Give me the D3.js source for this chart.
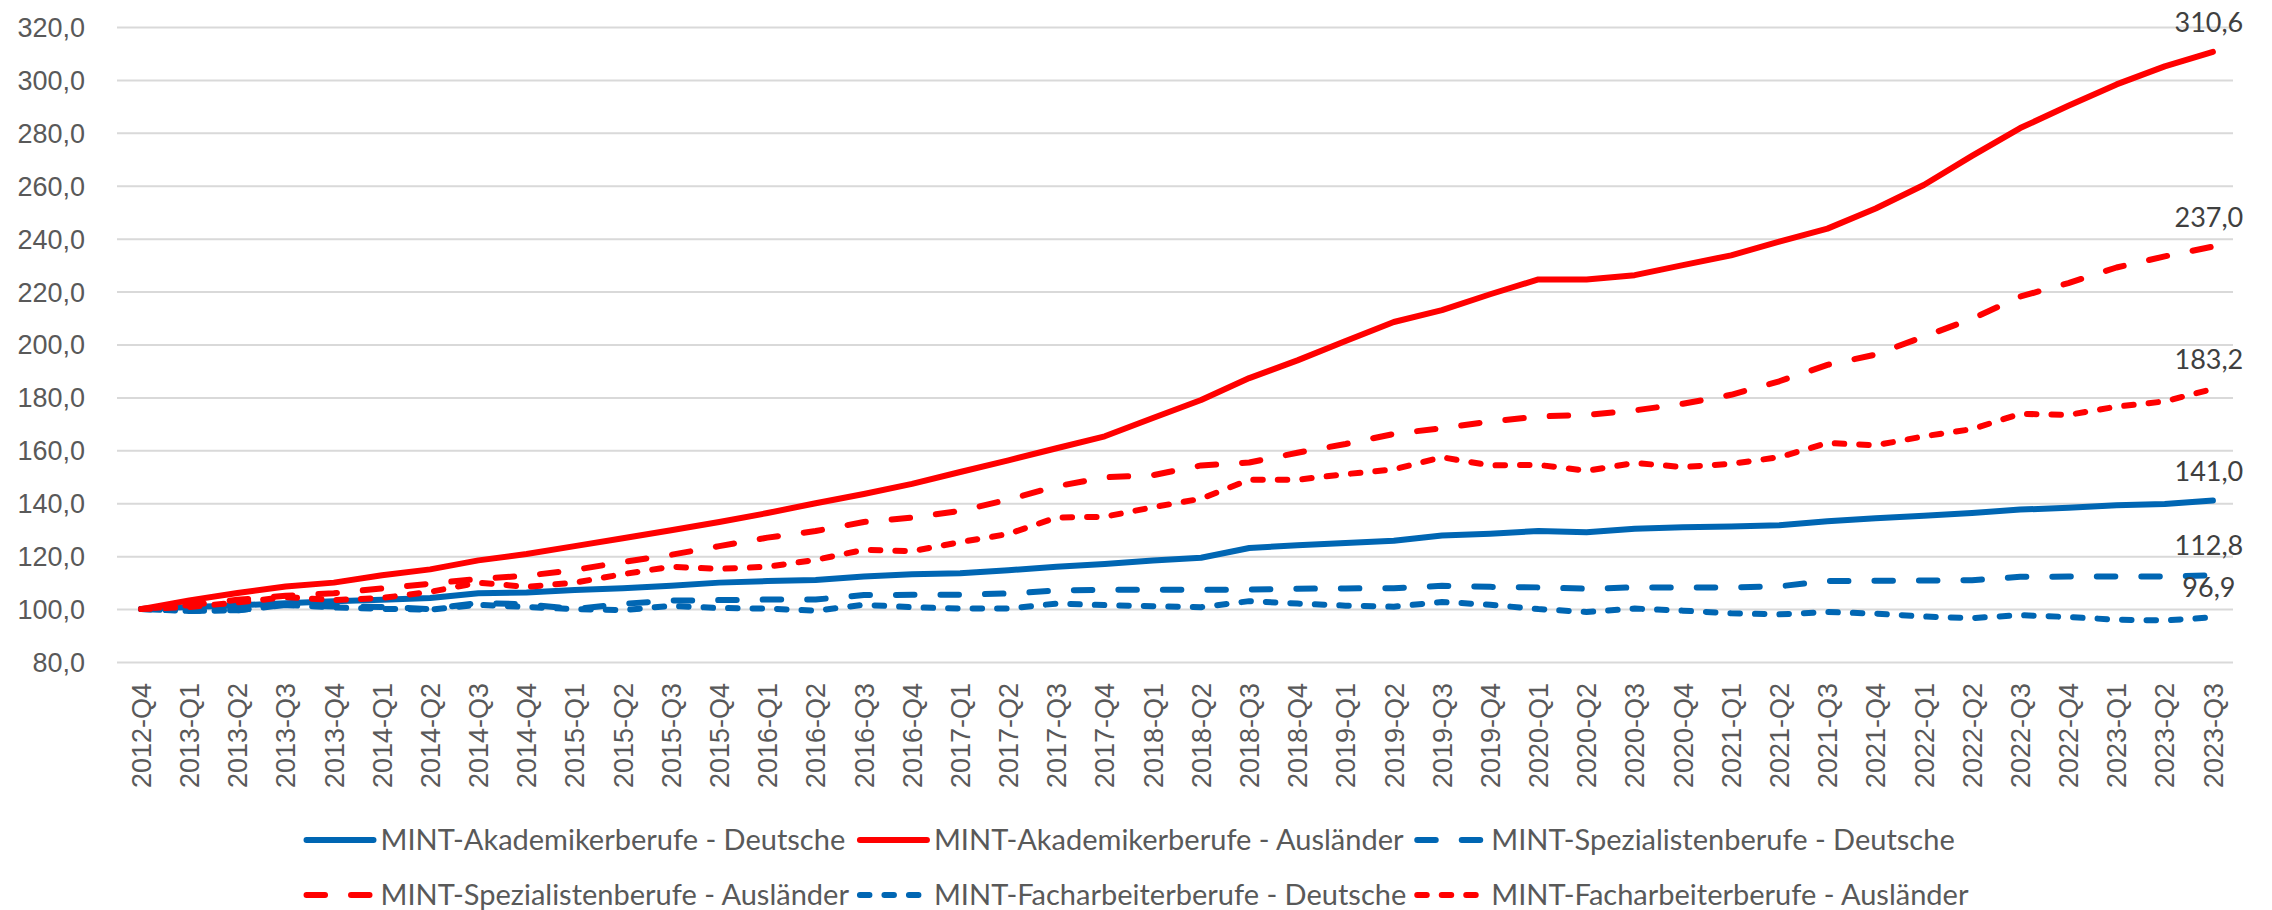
<!DOCTYPE html>
<html lang="de">
<head>
<meta charset="UTF-8">
<title>MINT-Beschäftigung nach Staatsangehörigkeit</title>
<script src="https://d3js.org/d3.v7.min.js"></script>
<style>
  body { margin: 0; background: #fff; }
  svg { display: block; font-family: Lato, "Open Sans", sans-serif; }
  .axis text { fill: #595959; font-size: 27px; }
  .grid line { stroke: #d9d9d9; stroke-width: 2; }
  .series { fill: none; stroke-width: 6; stroke-linecap: round; stroke-linejoin: round; }
  .end-label { fill: #404040; font-size: 27px; }
  .legend text { fill: #595959; font-size: 29px; }
</style>
</head>
<body>
<svg width="2272" height="910"></svg>
<script>
// categories (x axis)
const quarters = [
  "2012-Q4",
  "2013-Q1", "2013-Q2", "2013-Q3", "2013-Q4",
  "2014-Q1", "2014-Q2", "2014-Q3", "2014-Q4",
  "2015-Q1", "2015-Q2", "2015-Q3", "2015-Q4",
  "2016-Q1", "2016-Q2", "2016-Q3", "2016-Q4",
  "2017-Q1", "2017-Q2", "2017-Q3", "2017-Q4",
  "2018-Q1", "2018-Q2", "2018-Q3", "2018-Q4",
  "2019-Q1", "2019-Q2", "2019-Q3", "2019-Q4",
  "2020-Q1", "2020-Q2", "2020-Q3", "2020-Q4",
  "2021-Q1", "2021-Q2", "2021-Q3", "2021-Q4",
  "2022-Q1", "2022-Q2", "2022-Q3", "2022-Q4",
  "2023-Q1", "2023-Q2", "2023-Q3"
];

// index values, 2012-Q4 = 100
const akademikerDeutsche = [100, 100.8, 101.4, 102.2, 103.0, 103.5, 104.2, 106.0, 106.3, 107.2, 107.9, 108.8, 110.0, 110.6,
  111.0, 112.3, 113.2, 113.5, 114.7, 116.0, 117.0, 118.4, 119.4, 123.1, 124.1, 125.0, 125.8, 127.8, 128.5,
  129.5, 129.0, 130.4, 130.9, 131.2, 131.7, 133.2, 134.3, 135.3, 136.3, 137.6, 138.3, 139.2, 139.7, 141.0];
const akademikerAuslaender = [100, 103.3, 106.1, 108.5, 110.0, 112.8, 115.0, 118.4, 120.8, 123.8, 126.8, 129.8, 132.9, 136.3,
  140.0, 143.5, 147.3, 151.8, 156.2, 160.8, 165.3, 172.2, 179.0, 187.3, 194.0, 201.3, 208.5, 213.0, 219.0,
  224.6, 224.6, 226.2, 230.0, 233.7, 238.9, 243.8, 251.4, 260.3, 271.3, 281.8, 290.2, 298.3, 305.1, 310.6];
const spezialistenDeutsche = [100, 99.3, 99.6, 101.5, 101.0, 100.8, 100.0, 102.3, 101.8, 100.0, 102.0, 103.2, 103.4, 103.6,
  103.6, 105.3, 105.4, 105.4, 105.9, 107.0, 107.3, 107.3, 107.3, 107.4, 107.7, 107.8, 107.9, 108.8, 108.4,
  108.2, 107.7, 108.2, 108.2, 108.2, 108.6, 110.6, 110.7, 110.8, 110.9, 112.2, 112.3, 112.3, 112.3, 112.8];
const spezialistenAuslaender = [100, 101.5, 103.5, 105.0, 106.0, 107.8, 109.6, 111.4, 112.6, 114.8, 117.8, 120.5, 123.8, 127.0,
  129.5, 132.9, 134.6, 137.1, 141.4, 146.4, 149.8, 150.6, 154.3, 155.4, 159.1, 162.4, 166.2, 168.4, 170.9,
  172.8, 173.4, 175.1, 177.6, 181.0, 186.1, 192.3, 196.2, 203.0, 209.7, 218.1, 223.2, 229.1, 233.3, 237.0];
const facharbeiterDeutsche = [100, 99.3, 99.5, 101.6, 100.6, 100.1, 99.8, 101.6, 100.8, 100.0, 99.6, 101.2, 100.4, 100.2,
  99.4, 101.6, 100.7, 100.2, 100.2, 102.1, 101.5, 101.1, 100.7, 103.0, 102.1, 101.3, 100.9, 102.7, 101.6,
  100.0, 98.9, 100.2, 99.4, 98.4, 98.0, 98.9, 98.3, 97.2, 96.6, 97.7, 97.0, 96.0, 95.7, 96.9];
const facharbeiterAuslaender = [100, 100.8, 102.5, 104.5, 103.4, 104.2, 106.5, 110.0, 108.4, 110.0, 113.2, 116.0, 115.2, 116.0,
  118.6, 122.4, 121.9, 125.3, 128.4, 134.6, 134.9, 138.5, 141.7, 148.9, 148.9, 151.0, 152.8, 157.4, 154.3,
  154.5, 152.3, 155.2, 153.7, 154.9, 157.4, 162.8, 161.9, 165.3, 168.0, 173.8, 173.4, 176.5, 178.5, 183.2];

const seriesNames = [
  "MINT-Akademikerberufe - Deutsche",
  "MINT-Akademikerberufe - Ausländer",
  "MINT-Spezialistenberufe - Deutsche",
  "MINT-Spezialistenberufe - Ausländer",
  "MINT-Facharbeiterberufe - Deutsche",
  "MINT-Facharbeiterberufe - Ausländer"
];

// y axis tick labels
const yTicks = [80, 100, 120, 140, 160, 180, 200, 220, 240, 260, 280, 300, 320];

const blue = "#0066b3", red = "#ff0000";
const longDash = "18.5,26", shortDash = "9.5,15";

const series = [
  { name: seriesNames[0], values: akademikerDeutsche, color: blue, dash: null },
  { name: seriesNames[1], values: akademikerAuslaender, color: red, dash: null },
  { name: seriesNames[2], values: spezialistenDeutsche, color: blue, dash: longDash },
  { name: seriesNames[3], values: spezialistenAuslaender, color: red, dash: longDash },
  { name: seriesNames[4], values: facharbeiterDeutsche, color: blue, dash: shortDash },
  { name: seriesNames[5], values: facharbeiterAuslaender, color: red, dash: shortDash }
];

const de = d3.formatLocale({ decimal: ",", thousands: ".", grouping: [3], currency: ["", " €"] });
const fmt = de.format(".1f");

const svg = d3.select("svg");
const plot = { left: 117, right: 2237, top: 27, bottom: 662 };

const x = d3.scaleBand().domain(quarters).range([plot.left, plot.right]);
const y = d3.scaleLinear().domain([80, 320]).range([plot.bottom, plot.top]);
const cx = q => x(q) + x.bandwidth() / 2;

// gridlines + y labels
const yAxis = svg.append("g")
  .attr("class", "axis grid")
  .attr("transform", `translate(${plot.left},0)`)
  .call(d3.axisLeft(y).tickValues(yTicks).tickFormat(fmt)
    .tickSize(-(plot.right - 4 - plot.left)).tickPadding(32));
yAxis.select(".domain").remove();
yAxis.selectAll("text").attr("dy", "0.35em");

// x labels, rotated
const xAxis = svg.append("g")
  .attr("class", "axis")
  .attr("transform", `translate(0,${plot.bottom})`)
  .call(d3.axisBottom(x).tickSize(0));
xAxis.select(".domain").remove();
xAxis.selectAll("text")
  .attr("transform", "rotate(-90)")
  .attr("x", -21)
  .attr("y", 0)
  .attr("dy", "0.36em")
  .style("text-anchor", "end");

// lines
const line = d3.line()
  .x((d, i) => cx(quarters[i]))
  .y(d => y(d));

svg.append("g").selectAll("path")
  .data(series)
  .join("path")
  .attr("class", "series")
  .attr("stroke", d => d.color)
  .attr("stroke-dasharray", d => d.dash)
  .attr("d", d => line(d.values));

// value labels at the last quarter
const lastQ = quarters[quarters.length - 1];
svg.append("g").selectAll("text")
  .data(series)
  .join("text")
  .attr("class", "end-label")
  .attr("x", cx(lastQ) - 4)
  .attr("y", d => y(d.values[d.values.length - 1]) - 20)
  .attr("text-anchor", "middle")
  .text(d => fmt(d.values[d.values.length - 1]));

// legend: 2 rows x 3 columns, centred
const legend = svg.append("g").attr("class", "legend");
const rowsY = [840, 895];
const symLen = 73, symGap = 4, colGap = 8;

const items = legend.selectAll("g")
  .data(series)
  .join("g");

items.append("line")
  .attr("class", "series")
  .attr("x1", 3).attr("x2", symLen - 3)
  .attr("y1", 0).attr("y2", 0)
  .attr("stroke", d => d.color)
  .attr("stroke-dasharray", d => d.dash);

items.append("text")
  .attr("x", symLen + symGap)
  .attr("dy", "0.35em")
  .text(d => d.name);

const widths = [];
items.each(function(d, i) {
  widths[i] = symLen + symGap + this.querySelector("text").getComputedTextLength();
});
const colW = [0, 1, 2].map(c => Math.max(widths[c], widths[c + 3]));
const total = d3.sum(colW) + colGap * 2;
const start = 1136 - total / 2;
const colX = [start, start + colW[0] + colGap, start + colW[0] + colW[1] + colGap * 2];

items.attr("transform", (d, i) => `translate(${colX[i % 3]},${rowsY[Math.floor(i / 3)]})`);
</script>
</body>
</html>
